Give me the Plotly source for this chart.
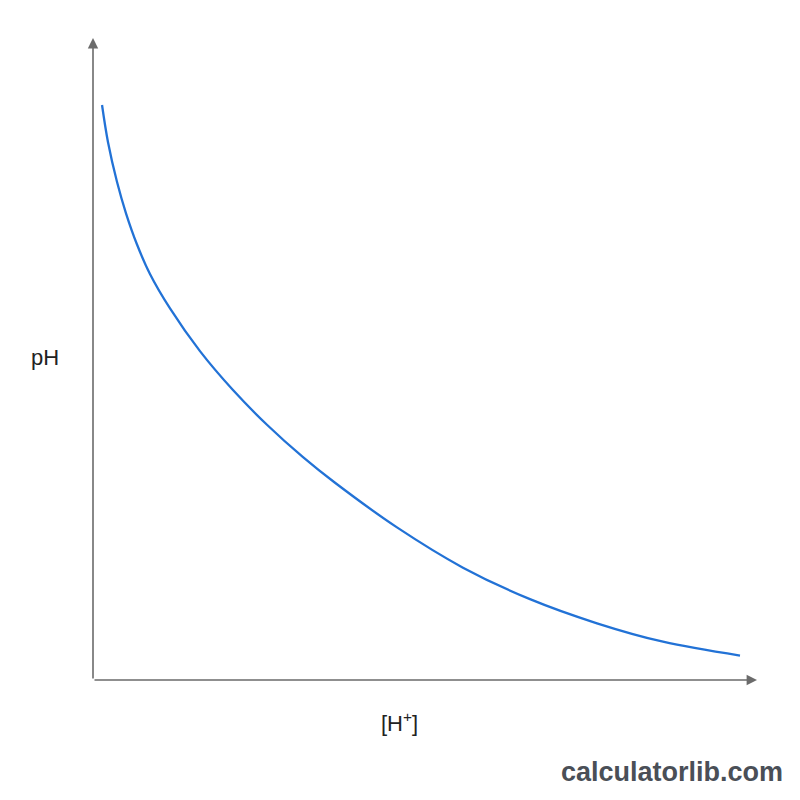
import plotly.graph_objects as go

# curve (arbitrary units, axes 0..10)
h_conc = [0.136, 0.226, 0.361, 0.497, 0.663, 0.858, 1.160, 1.611, 2.108, 2.620,
          3.163, 3.645, 4.578, 5.572, 6.581, 7.590, 8.584, 9.744]
ph_val = [8.956, 8.377, 7.760, 7.269, 6.783, 6.324, 5.787, 5.122, 4.516, 3.976,
          3.471, 3.072, 2.377, 1.750, 1.259, 0.883, 0.596, 0.380]

x_label = "[H<sup>+</sup>]"
y_label = "pH"
watermark = "calculatorlib.com"

fig = go.Figure()
fig.add_trace(go.Scatter(x=h_conc, y=ph_val, mode="lines",
                         line=dict(color="#2272d6", width=2.3, shape="spline", smoothing=1),
                         hoverinfo="skip"))

axis_col = "#6b6b6b"
# axis arrows
fig.add_annotation(x=0, y=10, ax=0, ay=0, xref="x", yref="y", axref="x", ayref="y",
                   showarrow=True, arrowhead=2, arrowsize=1.3, arrowwidth=1.6,
                   arrowcolor=axis_col, text="")
fig.add_annotation(x=10, y=0, ax=0, ay=0, xref="x", yref="y", axref="x", ayref="y",
                   showarrow=True, arrowhead=2, arrowsize=1.3, arrowwidth=1.6,
                   arrowcolor=axis_col, text="")

fig.add_annotation(text=y_label, x=-0.072, y=0.503, xref="paper", yref="paper",
                   xanchor="center", yanchor="middle",
                   showarrow=False, font=dict(size=22, color="#222"))
fig.add_annotation(text=x_label, x=0.462, y=-0.065, xref="paper", yref="paper",
                   xanchor="center", yanchor="middle",
                   showarrow=False, font=dict(size=22, color="#222"))
fig.add_annotation(text="<b>" + watermark + "</b>", x=1.042, y=-0.143, xref="paper", yref="paper",
                   xanchor="right", yanchor="middle",
                   showarrow=False, font=dict(size=27, color="#4a4f57"))

fig.update_xaxes(range=[0, 10], visible=False)
fig.update_yaxes(range=[0, 10], visible=False)
# page body has an 8px margin, so the margins are shifted by that
fig.update_layout(width=800, height=800, showlegend=False,
                  margin=dict(l=85, r=51, t=30, b=128),
                  paper_bgcolor="white", plot_bgcolor="white",
                  font=dict(family="Liberation Sans, Arial, sans-serif"))

fig.write_html("out.html")
